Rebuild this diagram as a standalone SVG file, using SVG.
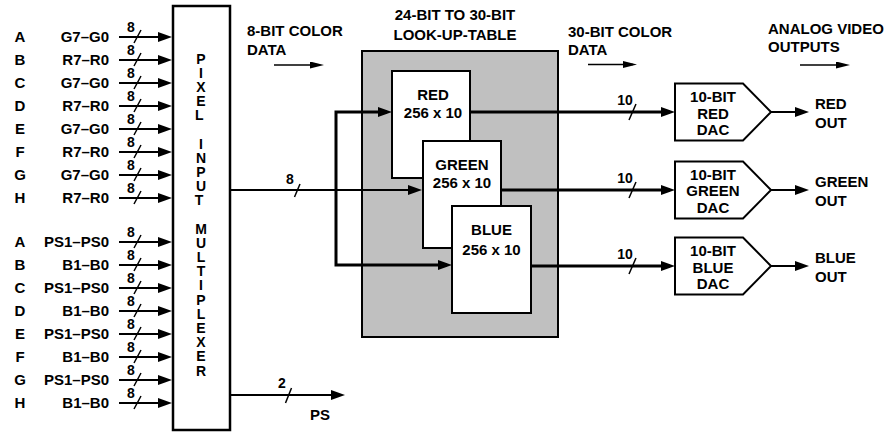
<svg xmlns="http://www.w3.org/2000/svg" width="886" height="432" viewBox="0 0 886 432">
<style>
text{font-family:"Liberation Sans",Arial,Helvetica,sans-serif;font-weight:bold;font-size:15px;fill:#000}
.s{font-size:14px}
.v{font-size:14px;text-anchor:middle}
.m{text-anchor:middle}
.e{text-anchor:end}
.box{fill:#fff;stroke:#000;stroke-width:2}
.w{fill:none;stroke:#000;stroke-width:2}
.t{fill:none;stroke:#000;stroke-width:3}
.th{fill:none;stroke:#000;stroke-width:1.5}
.sl{fill:none;stroke:#000;stroke-width:1.5}
</style>
<defs>
<marker id="ah" viewBox="0 0 14 10" refX="9" refY="5" markerWidth="14" markerHeight="10" markerUnits="userSpaceOnUse" orient="auto"><path d="M0,0 L14,5 L0,10 z" fill="#000"/></marker>
<marker id="ahs" viewBox="0 0 14 7" refX="10" refY="3.5" markerWidth="14" markerHeight="7" markerUnits="userSpaceOnUse" orient="auto"><path d="M0,0 L14,3.5 L0,7 z" fill="#000"/></marker>
</defs>

<g id="input-labels">
<text class="m" x="20" y="42">A</text><text class="e" x="109" y="42">G7–G0</text>
<text class="m" x="20" y="65">B</text><text class="e" x="109" y="65">R7–R0</text>
<text class="m" x="20" y="88">C</text><text class="e" x="109" y="88">G7–G0</text>
<text class="m" x="20" y="111">D</text><text class="e" x="109" y="111">R7–R0</text>
<text class="m" x="20" y="134">E</text><text class="e" x="109" y="134">G7–G0</text>
<text class="m" x="20" y="157">F</text><text class="e" x="109" y="157">R7–R0</text>
<text class="m" x="20" y="180">G</text><text class="e" x="109" y="180">G7–G0</text>
<text class="m" x="20" y="203">H</text><text class="e" x="109" y="203">R7–R0</text>
<text class="m" x="20" y="247">A</text><text class="e" x="109" y="247">PS1–PS0</text>
<text class="m" x="20" y="270">B</text><text class="e" x="109" y="270">B1–B0</text>
<text class="m" x="20" y="293">C</text><text class="e" x="109" y="293">PS1–PS0</text>
<text class="m" x="20" y="316">D</text><text class="e" x="109" y="316">B1–B0</text>
<text class="m" x="20" y="339">E</text><text class="e" x="109" y="339">PS1–PS0</text>
<text class="m" x="20" y="362">F</text><text class="e" x="109" y="362">B1–B0</text>
<text class="m" x="20" y="385">G</text><text class="e" x="109" y="385">PS1–PS0</text>
<text class="m" x="20" y="408">H</text><text class="e" x="109" y="408">B1–B0</text>
</g>

<g id="mux">
<rect x="173" y="6" width="57" height="424" fill="#fff" stroke="#000" stroke-width="2.5"/>
<text class="v">
<tspan x="201" y="63.5">P</tspan><tspan x="201" y="77.7">I</tspan><tspan x="201" y="91.9">X</tspan><tspan x="201" y="106">E</tspan><tspan x="201" y="120.2">L</tspan>
<tspan x="201" y="148.6">I</tspan><tspan x="201" y="162.8">N</tspan><tspan x="201" y="176.9">P</tspan><tspan x="201" y="191.1">U</tspan><tspan x="201" y="205.3">T</tspan>
<tspan x="201" y="233.7">M</tspan><tspan x="201" y="247.8">U</tspan><tspan x="201" y="262">L</tspan><tspan x="201" y="276.2">T</tspan><tspan x="201" y="290.4">I</tspan><tspan x="201" y="304.6">P</tspan><tspan x="201" y="318.7">L</tspan><tspan x="201" y="332.9">E</tspan><tspan x="201" y="347.1">X</tspan><tspan x="201" y="361.3">E</tspan><tspan x="201" y="375.5">R</tspan>
</text>
</g>

<g id="headers">
<text x="247" y="36">8-BIT COLOR</text>
<text x="247" y="55">DATA</text>
<text class="m" x="455" y="20">24-BIT TO 30-BIT</text>
<text class="m" x="455" y="40">LOOK-UP-TABLE</text>
<text x="568" y="37">30-BIT COLOR</text>
<text x="568" y="55">DATA</text>
<text x="768" y="34">ANALOG VIDEO</text>
<text x="768" y="52">OUTPUTS</text>
</g>

<g id="lut">
<rect x="362" y="51" width="196" height="286" fill="#c0c0c0" stroke="#000" stroke-width="2"/>
</g>
<g id="lut-red">
<rect class="box" x="392" y="71" width="78" height="107"/>
<text class="m" x="433" y="100">RED</text>
<text class="m" x="433" y="118">256 x 10</text>
</g>
<g id="lut-green">
<rect class="box" x="423" y="141" width="78" height="107"/>
<text class="m" x="462" y="170">GREEN</text>
<text class="m" x="462" y="188">256 x 10</text>
</g>
<g id="lut-blue">
<rect class="box" x="452" y="206" width="79" height="107"/>
<text class="m" x="491.5" y="235">BLUE</text>
<text class="m" x="491.5" y="255">256 x 10</text>
</g>

<g id="dac-red">
<polygon class="box" points="675,83.5 743,83.5 771,112 743,140.5 675,140.5"/>
<text class="m" x="713" y="102">10-BIT</text>
<text class="m" x="713" y="118.5">RED</text>
<text class="m" x="713" y="135">DAC</text>
</g>
<g id="dac-green">
<polygon class="box" points="675,161.5 743,161.5 771,190 743,218.5 675,218.5"/>
<text class="m" x="713" y="179.5">10-BIT</text>
<text class="m" x="713" y="196">GREEN</text>
<text class="m" x="713" y="212.5">DAC</text>
</g>
<g id="dac-blue">
<polygon class="box" points="675,237.5 743,237.5 771,266 743,294.5 675,294.5"/>
<text class="m" x="713" y="256">10-BIT</text>
<text class="m" x="713" y="272.5">BLUE</text>
<text class="m" x="713" y="289">DAC</text>
</g>

<g id="outputs">
<text x="815" y="109">RED</text><text x="815" y="128">OUT</text>
<text x="815" y="187">GREEN</text><text x="815" y="206">OUT</text>
<text x="815" y="263">BLUE</text><text x="815" y="282">OUT</text>
<text x="320" y="420" class="m">PS</text>
</g>

<g id="connectors">
<line x1="119" y1="37" x2="167" y2="37" class="w" marker-end="url(#ah)"/>
<line x1="119" y1="60" x2="167" y2="60" class="w" marker-end="url(#ah)"/>
<line x1="119" y1="83" x2="167" y2="83" class="w" marker-end="url(#ah)"/>
<line x1="119" y1="106" x2="167" y2="106" class="w" marker-end="url(#ah)"/>
<line x1="119" y1="129" x2="167" y2="129" class="w" marker-end="url(#ah)"/>
<line x1="119" y1="152" x2="167" y2="152" class="w" marker-end="url(#ah)"/>
<line x1="119" y1="175" x2="167" y2="175" class="w" marker-end="url(#ah)"/>
<line x1="119" y1="198" x2="167" y2="198" class="w" marker-end="url(#ah)"/>
<line x1="119" y1="242" x2="167" y2="242" class="w" marker-end="url(#ah)"/>
<line x1="119" y1="265" x2="167" y2="265" class="w" marker-end="url(#ah)"/>
<line x1="119" y1="288" x2="167" y2="288" class="w" marker-end="url(#ah)"/>
<line x1="119" y1="311" x2="167" y2="311" class="w" marker-end="url(#ah)"/>
<line x1="119" y1="334" x2="167" y2="334" class="w" marker-end="url(#ah)"/>
<line x1="119" y1="357" x2="167" y2="357" class="w" marker-end="url(#ah)"/>
<line x1="119" y1="380" x2="167" y2="380" class="w" marker-end="url(#ah)"/>
<line x1="119" y1="403" x2="167" y2="403" class="w" marker-end="url(#ah)"/>
<path class="sl" d="M134,43 L141,30 M134,66 L141,53 M134,89 L141,76 M134,112 L141,99 M134,135 L141,122 M134,158 L141,145 M134,181 L141,168 M134,204 L141,191 M134,248 L141,235 M134,271 L141,258 M134,294 L141,281 M134,317 L141,304 M134,340 L141,327 M134,363 L141,350 M134,386 L141,373 M134,409 L141,396"/>
<text class="m s" x="131" y="32">8</text><text class="m s" x="131" y="55">8</text><text class="m s" x="131" y="78">8</text><text class="m s" x="131" y="101">8</text>
<text class="m s" x="131" y="124">8</text><text class="m s" x="131" y="147">8</text><text class="m s" x="131" y="170">8</text><text class="m s" x="131" y="193">8</text>
<text class="m s" x="131" y="237">8</text><text class="m s" x="131" y="260">8</text><text class="m s" x="131" y="283">8</text><text class="m s" x="131" y="306">8</text>
<text class="m s" x="131" y="329">8</text><text class="m s" x="131" y="352">8</text><text class="m s" x="131" y="375">8</text><text class="m s" x="131" y="398">8</text>

<line class="w" x1="231" y1="190" x2="417" y2="190" marker-end="url(#ah)"/>
<path class="sl" d="M294.5,197 L300,184"/>
<text class="m s" x="290" y="184">8</text>
<path class="t" d="M336,190 V112 H387" marker-end="url(#ah)"/>
<path class="t" d="M336,190 V265 H447" marker-end="url(#ah)"/>

<line class="w" x1="231" y1="395" x2="340" y2="395" marker-end="url(#ah)"/>
<path class="sl" d="M285.5,403 L291.5,388"/>
<text class="m s" x="282" y="388">2</text>

<line class="t" x1="471" y1="112" x2="670" y2="112" marker-end="url(#ah)"/>
<line class="t" x1="502" y1="190" x2="670" y2="190" marker-end="url(#ah)"/>
<line class="t" x1="531" y1="266" x2="670" y2="266" marker-end="url(#ah)"/>
<path class="sl" d="M629,120 L636,104 M629,198 L636,182 M629,274 L636,258"/>
<text class="m s" x="625" y="105">10</text>
<text class="m s" x="625" y="183">10</text>
<text class="m s" x="625" y="259">10</text>

<line class="w" x1="771" y1="112" x2="804" y2="112" marker-end="url(#ah)"/>
<line class="w" x1="771" y1="190" x2="804" y2="190" marker-end="url(#ah)"/>
<line class="w" x1="771" y1="266" x2="804" y2="266" marker-end="url(#ah)"/>

<line class="th" x1="274" y1="65" x2="320" y2="65" marker-end="url(#ahs)"/>
<line class="th" x1="588" y1="64.5" x2="633" y2="64.5" marker-end="url(#ahs)"/>
<line class="th" x1="800" y1="65" x2="846" y2="65" marker-end="url(#ahs)"/>
</g>
</svg>
